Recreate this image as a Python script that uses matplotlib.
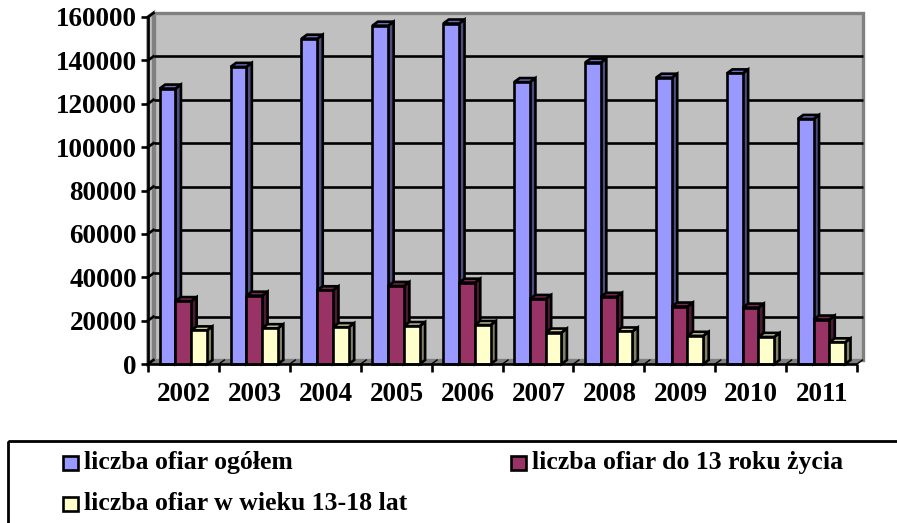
import matplotlib
matplotlib.use("Agg")
import matplotlib.pyplot as plt
from matplotlib.patches import Polygon, Rectangle

years = ['2002', '2003', '2004', '2005', '2006', '2007', '2008', '2009', '2010', '2011']
total = [127000, 137000, 150000, 156000, 157000, 130000, 139000, 132000, 134000, 113000]
under13 = [29000, 31500, 34000, 36000, 37500, 30000, 31000, 26500, 26000, 20500]
age13_18 = [15500, 16500, 17000, 17500, 18000, 14500, 15000, 13000, 12500, 10000]
labels = ['liczba ofiar ogółem', 'liczba ofiar do 13 roku życia', 'liczba ofiar w wieku 13-18 lat']
yticks = list(range(0, 160001, 20000))

W, H = 897, 523
L, R, T, B = 148, 857, 17, 364
FONT = 'Liberation Serif'
plt.rcParams['font.family'] = FONT
plt.rcParams['font.weight'] = 'bold'
LW = 1.9

fig = plt.figure(figsize=(W/100, H/100), dpi=100)
ax = fig.add_axes([L/W, 1-B/H, (R-L)/W, (B-T)/H])
ax.set_xlim(0, 10)
ax.set_ylim(0, 160000)
ax.set_facecolor('none')
for s in ax.spines.values():
    s.set_visible(False)

dx = 5.5 / ((R-L)/10)
dy = 4 * 160000 / (B-T)
ymax = 160000

def poly(pts, fc, ec='black', lw=LW, z=2):
    ax.add_patch(Polygon(pts, closed=True, facecolor=fc, edgecolor=ec, linewidth=lw,
                         zorder=z, clip_on=False, joinstyle='miter'))

# walls
poly([(dx, dy), (10+dx, dy), (10+dx, ymax+dy), (dx, ymax+dy)], '#C0C0C0', '#808080', 2.4, 1)
poly([(0, 0), (dx, dy), (dx, ymax+dy), (0, ymax)], '#C0C0C0', '#808080', 2.4, 1)
poly([(0, 0), (10, 0), (10+dx, dy), (dx, dy)], '#808080', '#808080', 0.5, 1.1)

for v in yticks[1:-1]:
    ax.plot([dx, 10+dx], [v+dy, v+dy], color='black', lw=LW, zorder=1.5, clip_on=False, solid_capstyle='butt')
for v in yticks:
    ax.plot([0, dx], [v, v+dy], color='black', lw=LW, zorder=1.5, clip_on=False)
for i in range(11):
    ax.plot([i, i+dx], [0, dy], color='black', lw=1.0, zorder=1.5, clip_on=False)

bar_w = 0.222
start = 0.165
series = [
    (total, '#9999FF', '#B8B8FF', '#4D4D80'),
    (under13, '#993366', '#7A2952', '#4D1A33'),
    (age13_18, '#FFFFCC', '#CCCCA3', '#808066'),
]
z = 3
for i in range(len(years)):
    for k, (vals, front, top, side) in enumerate(series):
        x0 = i + start + k*bar_w
        x1 = x0 + bar_w
        v = vals[i]
        poly([(x1, 0), (x1+dx, dy), (x1+dx, v+dy), (x1, v)], side, z=z)
        poly([(x0, v), (x1, v), (x1+dx, v+dy), (x0+dx, v+dy)], top if k else '#6E6EC0', z=z)
        ax.bar(x0, v, width=bar_w, align='edge', color=front, edgecolor='black',
               linewidth=LW, zorder=z+0.1, clip_on=False)
        z += 0.2

# axis lines
ax.plot([0, 0], [0, ymax], color='black', lw=LW, zorder=50, clip_on=False)
ax.plot([0, 10], [0, 0], color='black', lw=LW, zorder=50, clip_on=False, solid_capstyle='butt')

ax.set_yticks(yticks)
ax.set_yticklabels([str(v) for v in yticks], fontsize=19.5, fontweight='bold')
ax.set_xticks(range(11))
ax.set_xticklabels([''] * 11)
ax.tick_params(axis='y', length=5, width=LW, pad=3)
ax.tick_params(axis='x', length=5.5, width=LW)
for i, y in enumerate(years):
    ax.text(i+0.51, -8300, y, ha='center', va='top', fontsize=19.5, fontweight='bold', clip_on=False)

# legend box and entries, figure-pixel space
lax = fig.add_axes([0, 0, 1, 1])
lax.set_xlim(0, W)
lax.set_ylim(H, 0)
lax.axis('off')
lax.patch.set_alpha(0)
lax.add_patch(Rectangle((8, 441), W+20, H, facecolor='none', edgecolor='black', linewidth=2.0, clip_on=True))
entries = [(63, 463, labels[0], series[0][1]), (511, 463, labels[1], series[1][1]), (63, 504, labels[2], series[2][1])]
for x, y, t, c in entries:
    lax.add_patch(Rectangle((x, y-7), 15, 14, facecolor=c, edgecolor='black', linewidth=1.9))
    lax.text(x+21, y, t, ha='left', va='center', fontsize=18.5, fontweight='bold')

fig.savefig('out.png', dpi=100, facecolor='white')
